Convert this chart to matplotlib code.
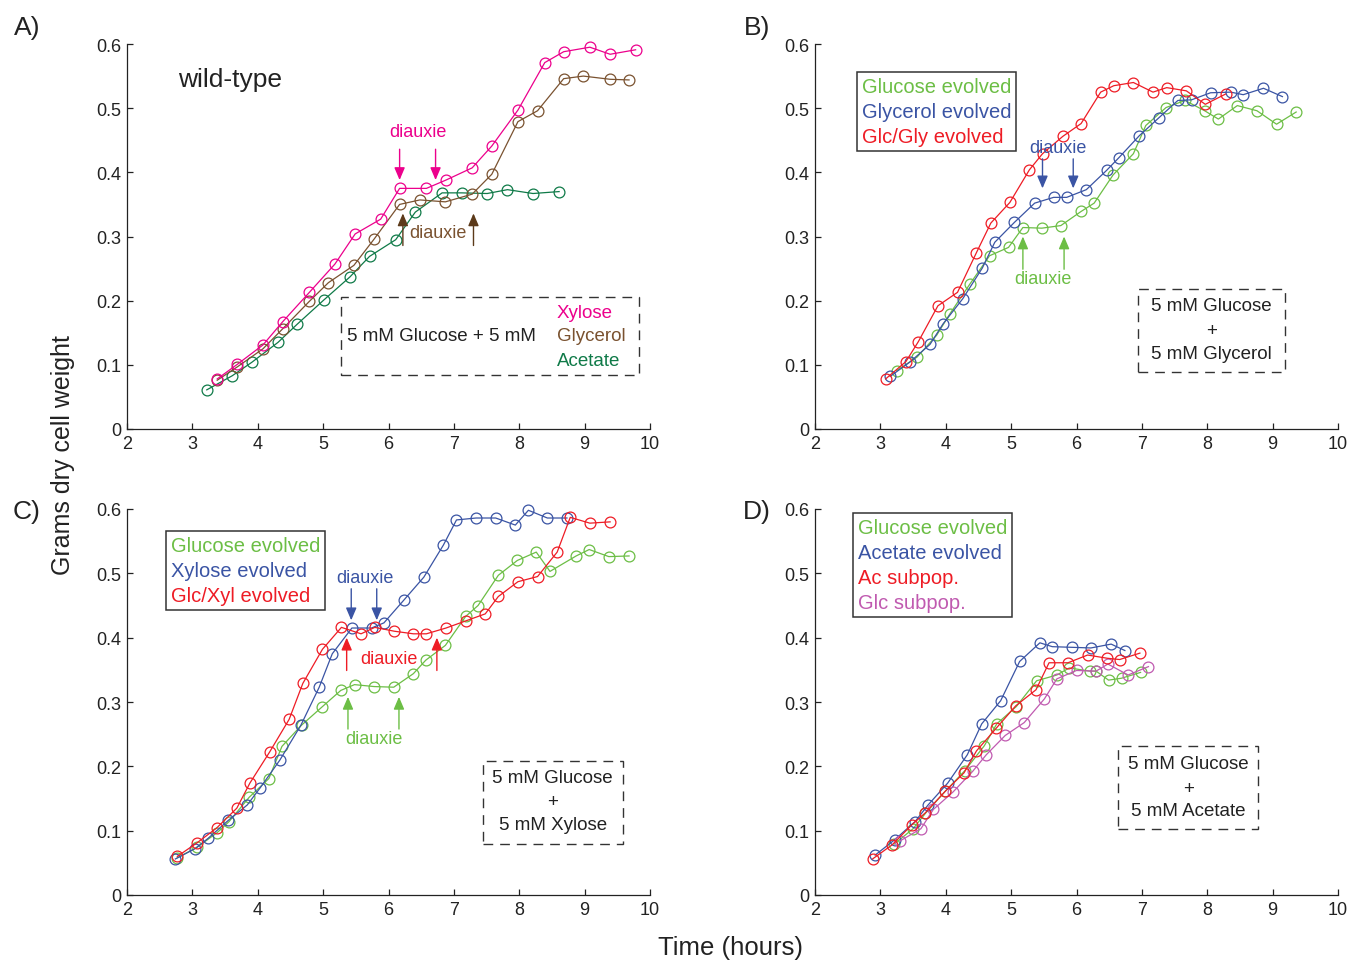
import matplotlib
matplotlib.use("Agg")
import matplotlib.pyplot as plt
from matplotlib.lines import Line2D
from matplotlib.patches import Rectangle

plt.rcParams['font.family'] = ['Liberation Sans', 'DejaVu Sans']

# ---------------- data ----------------
# Panel A (wild-type)
A_xyl_t = [3.38, 3.69, 4.08, 4.38, 4.79, 5.18, 5.49, 5.88, 6.17, 6.58, 6.88, 7.28, 7.58, 7.98, 8.39, 8.68, 9.08, 9.39, 9.78]
A_xyl_y = [0.078, 0.101, 0.131, 0.167, 0.213, 0.257, 0.304, 0.327, 0.375, 0.375, 0.388, 0.407, 0.441, 0.497, 0.571, 0.588, 0.595, 0.584, 0.591]
A_gly_t = [3.38, 3.69, 4.08, 4.38, 4.79, 5.08, 5.47, 5.78, 6.17, 6.48, 6.87, 7.28, 7.58, 7.98, 8.28, 8.68, 8.98, 9.39, 9.68]
A_gly_y = [0.076, 0.097, 0.125, 0.156, 0.199, 0.228, 0.255, 0.296, 0.350, 0.357, 0.354, 0.366, 0.397, 0.479, 0.496, 0.546, 0.550, 0.545, 0.544]
A_ace_t = [3.22, 3.61, 3.91, 4.31, 4.60, 5.01, 5.41, 5.71, 6.11, 6.41, 6.82, 7.12, 7.51, 7.82, 8.21, 8.61]
A_ace_y = [0.061, 0.083, 0.104, 0.135, 0.163, 0.201, 0.237, 0.269, 0.295, 0.338, 0.368, 0.368, 0.367, 0.373, 0.367, 0.370]

# Panel B (glucose + glycerol)
B_glc_t = [3.25, 3.56, 3.86, 4.06, 4.37, 4.67, 4.96, 5.18, 5.47, 5.76, 6.07, 6.27, 6.56, 6.87, 7.06, 7.37, 7.66, 7.96, 8.17, 8.46, 8.76, 9.06, 9.36]
B_glc_y = [0.091, 0.112, 0.146, 0.179, 0.226, 0.270, 0.283, 0.314, 0.313, 0.317, 0.339, 0.352, 0.396, 0.429, 0.473, 0.501, 0.512, 0.496, 0.483, 0.504, 0.496, 0.475, 0.494]
B_gly_t = [3.15, 3.46, 3.76, 3.96, 4.26, 4.56, 4.75, 5.05, 5.36, 5.65, 5.85, 6.15, 6.46, 6.65, 6.96, 7.26, 7.55, 7.76, 8.05, 8.36, 8.55, 8.86, 9.15]
B_gly_y = [0.082, 0.105, 0.132, 0.164, 0.203, 0.251, 0.291, 0.322, 0.352, 0.361, 0.361, 0.373, 0.403, 0.423, 0.457, 0.485, 0.512, 0.513, 0.524, 0.525, 0.521, 0.531, 0.518]
B_gg_t = [3.08, 3.39, 3.58, 3.88, 4.18, 4.47, 4.69, 4.98, 5.28, 5.48, 5.79, 6.07, 6.37, 6.57, 6.87, 7.17, 7.38, 7.68, 7.97, 8.28]
B_gg_y = [0.078, 0.105, 0.136, 0.192, 0.213, 0.275, 0.321, 0.353, 0.404, 0.429, 0.456, 0.476, 0.525, 0.535, 0.540, 0.525, 0.532, 0.527, 0.506, 0.522]

# Panel C (glucose + xylose)
C_glc_t = [2.77, 3.07, 3.38, 3.56, 3.87, 4.17, 4.37, 4.67, 4.98, 5.27, 5.48, 5.78, 6.08, 6.38, 6.57, 6.87, 7.18, 7.37, 7.68, 7.97, 8.26, 8.47, 8.87, 9.07, 9.37, 9.68]
C_glc_y = [0.058, 0.074, 0.097, 0.114, 0.152, 0.181, 0.231, 0.264, 0.292, 0.318, 0.327, 0.324, 0.323, 0.344, 0.365, 0.388, 0.433, 0.450, 0.497, 0.520, 0.533, 0.503, 0.527, 0.537, 0.526, 0.527]
C_xyl_t = [2.74, 3.04, 3.24, 3.55, 3.84, 4.04, 4.34, 4.66, 4.94, 5.14, 5.44, 5.74, 5.93, 6.24, 6.54, 6.84, 7.04, 7.34, 7.64, 7.94, 8.14, 8.43, 8.73]
C_xyl_y = [0.056, 0.072, 0.088, 0.116, 0.140, 0.167, 0.210, 0.264, 0.323, 0.375, 0.415, 0.415, 0.423, 0.459, 0.494, 0.544, 0.583, 0.586, 0.586, 0.575, 0.598, 0.586, 0.586]
C_gx_t = [2.77, 3.07, 3.37, 3.68, 3.88, 4.18, 4.48, 4.69, 4.99, 5.28, 5.58, 5.79, 6.09, 6.38, 6.58, 6.88, 7.18, 7.48, 7.68, 7.98, 8.28, 8.58, 8.78, 9.08, 9.39]
C_gx_y = [0.060, 0.081, 0.104, 0.135, 0.174, 0.222, 0.273, 0.329, 0.382, 0.416, 0.406, 0.416, 0.410, 0.406, 0.406, 0.415, 0.426, 0.437, 0.464, 0.487, 0.495, 0.533, 0.587, 0.578, 0.580]

# Panel D (glucose + acetate)
D_glc_t = [3.21, 3.50, 3.69, 3.99, 4.29, 4.59, 4.78, 5.08, 5.39, 5.70, 5.89, 6.20, 6.30, 6.49, 6.69, 6.98]
D_glc_y = [0.079, 0.103, 0.127, 0.161, 0.193, 0.232, 0.266, 0.293, 0.333, 0.342, 0.353, 0.348, 0.348, 0.334, 0.337, 0.346]
D_ace_t = [2.92, 3.22, 3.53, 3.73, 4.03, 4.33, 4.55, 4.84, 5.13, 5.44, 5.63, 5.93, 6.22, 6.53, 6.74]
D_ace_y = [0.062, 0.086, 0.114, 0.140, 0.174, 0.218, 0.266, 0.302, 0.363, 0.392, 0.386, 0.385, 0.384, 0.390, 0.380]
D_acs_t = [2.88, 3.18, 3.48, 3.68, 3.99, 4.28, 4.47, 4.77, 5.07, 5.38, 5.58, 5.87, 6.17, 6.47, 6.66, 6.97]
D_acs_y = [0.056, 0.078, 0.109, 0.127, 0.161, 0.190, 0.224, 0.259, 0.294, 0.319, 0.361, 0.361, 0.373, 0.368, 0.366, 0.376]
D_gls_t = [3.30, 3.62, 3.81, 4.11, 4.41, 4.62, 4.91, 5.20, 5.51, 5.70, 6.00, 6.30, 6.48, 6.79, 7.10]
D_gls_y = [0.084, 0.103, 0.133, 0.160, 0.192, 0.218, 0.248, 0.268, 0.305, 0.336, 0.349, 0.348, 0.359, 0.342, 0.355]

x_ticks = [2, 3, 4, 5, 6, 7, 8, 9, 10]
y_ticks = [0, 0.1, 0.2, 0.3, 0.4, 0.5, 0.6]
y_tick_labels = ['0', '0.1', '0.2', '0.3', '0.4', '0.5', '0.6']

legend_B = ['Glucose evolved', 'Glycerol evolved', 'Glc/Gly evolved']
legend_C = ['Glucose evolved', 'Xylose evolved', 'Glc/Xyl evolved']
legend_D = ['Glucose evolved', 'Acetate evolved', 'Ac subpop.', 'Glc subpop.']

# ---------------- colours ----------------
PINK = '#EC008C'
BROWN = '#7A5230'
BROWN_ARROW = '#5C3A1A'
DKGREEN = '#0F7A48'
GREEN = '#6CBE45'
BLUE = '#3A54A4'
RED = '#EE1C25'
MAGENTA = '#C05AB0'

fig = plt.figure(figsize=(13.52, 9.62), dpi=100)
W, H = 1352, 962


def make_ax(x0, x1, ytop, ybot):
    return fig.add_axes([x0 / W, 1 - ybot / H, (x1 - x0) / W, (ybot - ytop) / H])


axA = make_ax(127, 650, 45, 430)
axB = make_ax(815, 1338, 45, 430)
axC = make_ax(127, 650, 510, 896)
axD = make_ax(815, 1338, 510, 896)

for ax in (axA, axB, axC, axD):
    ax.set_xlim(2, 10)
    ax.set_ylim(0, 0.6)
    ax.set_xticks(x_ticks)
    ax.set_yticks(y_ticks)
    ax.set_yticklabels(y_tick_labels)
    ax.spines['top'].set_visible(False)
    ax.spines['right'].set_visible(False)
    for s in ('left', 'bottom'):
        ax.spines[s].set_linewidth(0.9)
        ax.spines[s].set_color('#222222')
    ax.tick_params(direction='in', length=4, width=0.9, labelsize=13, colors='#222222', pad=4)
    ax.patch.set_alpha(0)


def series(ax, t, y, c):
    ax.plot(t, y, '-o', color=c, lw=0.9, ms=7.8, mfc='none', mec=c, mew=0.9, clip_on=False)


def arrow(ax, x, y0, y1, c):
    ax.annotate('', xy=(x, y1), xytext=(x, y0),
                arrowprops=dict(arrowstyle='-|>,head_length=0.75,head_width=0.32',
                                color=c, lw=1.0, shrinkA=0, shrinkB=0))


def dbox(ax, x0, x1, y0, y1):
    ax.add_patch(Rectangle((x0, y0), x1 - x0, y1 - y0, fill=False, ec='#333333',
                           lw=1.0, ls=(0, (7, 5))))


def tlegend(ax, labels, colors, anchor, fs=14.5):
    handles = [Line2D([], [], ls='none', marker=None) for _ in labels]
    leg = ax.legend(handles, labels, loc='upper left', bbox_to_anchor=anchor,
                    handlelength=0, handletextpad=0, fontsize=fs, labelcolor=colors,
                    frameon=True, fancybox=False, edgecolor='#333333', framealpha=1,
                    borderpad=0.25, labelspacing=0.3, borderaxespad=0)
    leg.get_frame().set_linewidth(1.1)


# ---------------- Panel A ----------------
series(axA, A_ace_t, A_ace_y, DKGREEN)
series(axA, A_gly_t, A_gly_y, BROWN)
series(axA, A_xyl_t, A_xyl_y, PINK)
axA.text(3.57, 0.545, 'wild-type', fontsize=19, ha='center', va='center', color='#222222')
axA.text(6.45, 0.463, 'diauxie', fontsize=13, color=PINK, ha='center', va='center')
for xa in (6.17, 6.72):
    arrow(axA, xa, 0.436, 0.388, PINK)
axA.text(6.75, 0.307, 'diauxie', fontsize=13, color=BROWN, ha='center', va='center')
for xa in (6.22, 7.30):
    arrow(axA, xa, 0.286, 0.336, BROWN_ARROW)
dbox(axA, 5.27, 9.83, 0.084, 0.205)
axA.text(5.36, 0.145, '5 mM Glucose + 5 mM', fontsize=13.5, ha='left', va='center', color='#222222')
axA.text(8.575, 0.182, 'Xylose', fontsize=13.5, ha='left', va='center', color=PINK)
axA.text(8.575, 0.145, 'Glycerol', fontsize=13.5, ha='left', va='center', color=BROWN)
axA.text(8.575, 0.106, 'Acetate', fontsize=13.5, ha='left', va='center', color=DKGREEN)

# ---------------- Panel B ----------------
series(axB, B_glc_t, B_glc_y, GREEN)
series(axB, B_gly_t, B_gly_y, BLUE)
series(axB, B_gg_t, B_gg_y, RED)
tlegend(axB, legend_B, [GREEN, BLUE, RED], (0.080, 0.927))
axB.text(5.72, 0.438, 'diauxie', fontsize=13, color=BLUE, ha='center', va='center')
for xa in (5.48, 5.95):
    arrow(axB, xa, 0.421, 0.375, BLUE)
for xa in (5.18, 5.81):
    arrow(axB, xa, 0.249, 0.300, GREEN)
axB.text(5.49, 0.234, 'diauxie', fontsize=13, color=GREEN, ha='center', va='center')
dbox(axB, 6.94, 9.19, 0.089, 0.218)
axB.text(8.06, 0.193, '5 mM Glucose', fontsize=13.5, ha='center', va='center', color='#222222')
axB.text(8.06, 0.154, '+', fontsize=13.5, ha='center', va='center', color='#222222')
axB.text(8.06, 0.118, '5 mM Glycerol', fontsize=13.5, ha='center', va='center', color='#222222')

# ---------------- Panel C ----------------
series(axC, C_glc_t, C_glc_y, GREEN)
series(axC, C_xyl_t, C_xyl_y, BLUE)
series(axC, C_gx_t, C_gx_y, RED)
tlegend(axC, legend_C, [GREEN, BLUE, RED], (0.074, 0.944))
axC.text(5.64, 0.494, 'diauxie', fontsize=13, color=BLUE, ha='center', va='center')
for xa in (5.43, 5.82):
    arrow(axC, xa, 0.476, 0.427, BLUE)
axC.text(6.0, 0.368, 'diauxie', fontsize=13, color=RED, ha='center', va='center')
for xa in (5.36, 6.74):
    arrow(axC, xa, 0.349, 0.400, RED)
for xa in (5.38, 6.16):
    arrow(axC, xa, 0.258, 0.308, GREEN)
axC.text(5.77, 0.244, 'diauxie', fontsize=13, color=GREEN, ha='center', va='center')
dbox(axC, 7.44, 9.58, 0.080, 0.209)
axC.text(8.51, 0.183, '5 mM Glucose', fontsize=13.5, ha='center', va='center', color='#222222')
axC.text(8.51, 0.145, '+', fontsize=13.5, ha='center', va='center', color='#222222')
axC.text(8.51, 0.109, '5 mM Xylose', fontsize=13.5, ha='center', va='center', color='#222222')

# ---------------- Panel D ----------------
series(axD, D_glc_t, D_glc_y, GREEN)
series(axD, D_ace_t, D_ace_y, BLUE)
series(axD, D_gls_t, D_gls_y, MAGENTA)
series(axD, D_acs_t, D_acs_y, RED)
tlegend(axD, legend_D, [GREEN, BLUE, RED, MAGENTA], (0.072, 0.990))
dbox(axD, 6.64, 8.78, 0.1026, 0.231)
axD.text(7.71, 0.204, '5 mM Glucose', fontsize=13.5, ha='center', va='center', color='#222222')
axD.text(7.71, 0.165, '+', fontsize=13.5, ha='center', va='center', color='#222222')
axD.text(7.71, 0.131, '5 mM Acetate', fontsize=13.5, ha='center', va='center', color='#222222')

# ---------------- figure labels ----------------
for lab, (px, py) in {'A)': (27, 28), 'B)': (757, 28), 'C)': (27, 512), 'D)': (757, 512)}.items():
    fig.text(px / W, 1 - py / H, lab, fontsize=19, ha='center', va='center', color='#222222')
fig.text(63 / W, 1 - 455 / H, 'Grams dry cell weight', fontsize=18, rotation=90,
         ha='center', va='center', color='#222222')
fig.text(730 / W, 1 - 948 / H, 'Time (hours)', fontsize=18.5, ha='center', va='center', color='#222222')

fig.savefig('out.png', dpi=100)
